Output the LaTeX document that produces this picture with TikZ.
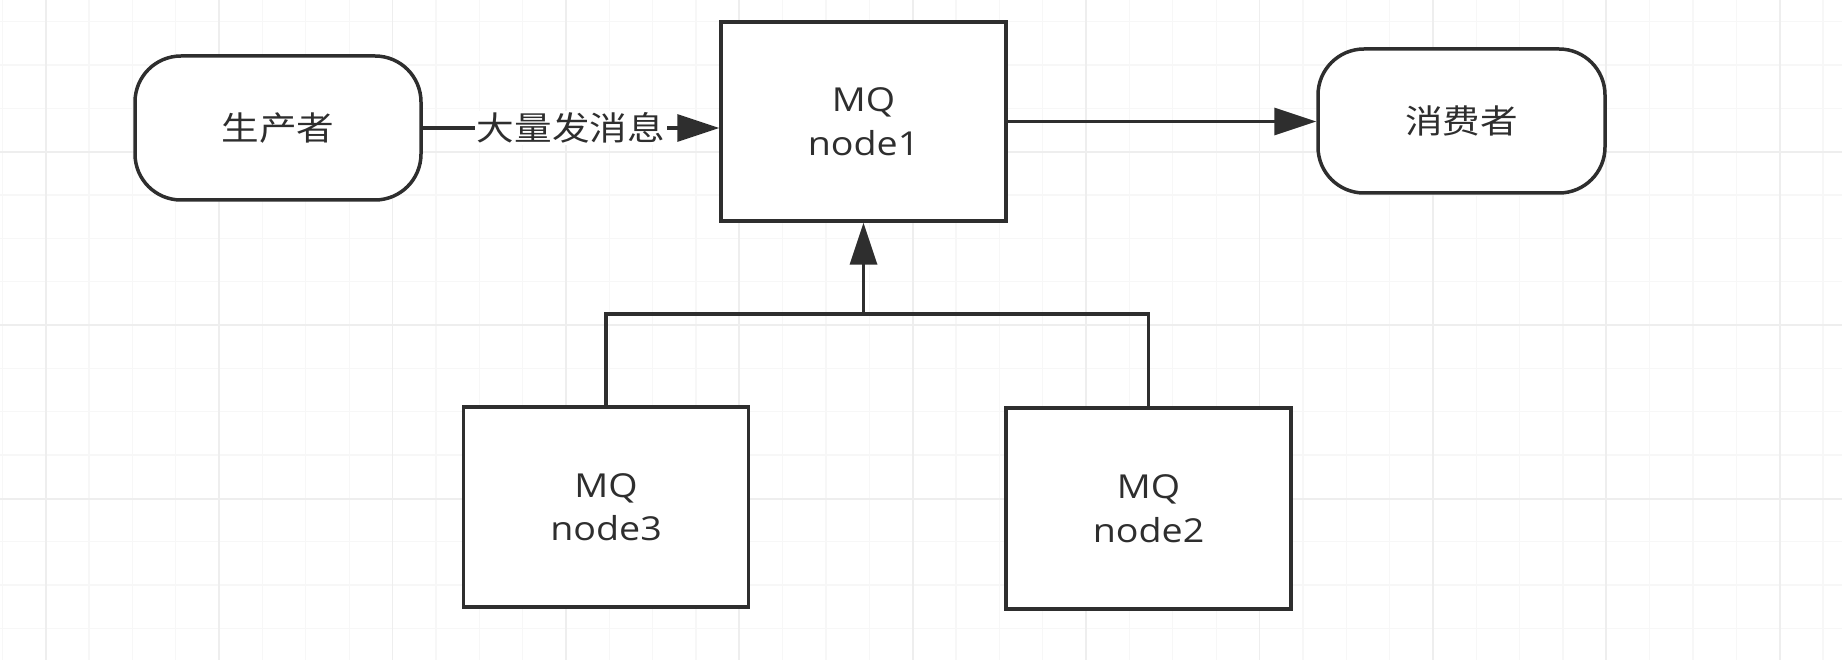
\documentclass[tikz,border=0pt]{standalone}
\usepackage{fontspec}
\usepackage{graphicx}
\setmainfont{Open Sans}
\newfontfamily\cjk{Noto Sans CJK SC}
\usetikzlibrary{arrows.meta}
\definecolor{ink}{HTML}{2E2E2E}
\definecolor{gridminor}{HTML}{F7F7F7}
\definecolor{gridmajor}{HTML}{EEEEEE}
\newcommand{\stx}[1]{\scalebox{1.14}[1]{#1}}
\tikzset{
  minorline/.style={draw=gridminor, line width=1.3pt},
  majorline/.style={draw=gridmajor, line width=1.8pt},
  box/.style={draw=ink, fill=white, line width=3.5pt, inner sep=0pt,
    minimum width=285pt, minimum height=200pt, align=center,
    text=ink, font=\fontsize{33}{43.4}\selectfont},
  term/.style={draw=ink, fill=white, line width=3.5pt, inner sep=0pt,
    rounded corners=46pt, minimum width=286pt, minimum height=144pt,
    text=ink, font=\cjk\fontsize{33}{40}\selectfont},
  conn/.style={draw=ink, line width=3.5pt, -{Triangle[length=42pt, width=27pt]}},
  plain/.style={draw=ink, line width=3.5pt},
  lbl/.style={fill=white, inner sep=2pt, text=ink, font=\cjk\fontsize{33}{40}\selectfont}
}
\begin{document}
\begin{tikzpicture}[x=1pt, y=-1pt]
\useasboundingbox (0,0) rectangle (1842,660);
\fill[white] (0,0) rectangle (1842,660);
% grid
\foreach \i in {0,...,42} {
  \draw[minorline] ({2.35+43.35*\i},0) -- ({2.35+43.35*\i},660);
}
\foreach \j in {0,...,15} {
  \draw[minorline] (0,{21.55+43.35*\j}) -- (1842,{21.55+43.35*\j});
}
\foreach \i in {0,...,10} {
  \draw[majorline] ({45.7+173.4*\i},0) -- ({45.7+173.4*\i},660);
}
\foreach \j in {0,...,3} {
  \draw[majorline] (0,{151.9+173.4*\j}) -- (1842,{151.9+173.4*\j});
}
% nodes
\node[term] (prod) at (278,128) {\stx{生产者}};
\node[box, minimum height=199pt] (n1) at (863.5,121.5) {\stx{MQ}\\\stx{node1}};
\node[term, minimum width=287pt] (cons) at (1461.5,121) {\stx{消费者}};
\node[box] (n3) at (606,507) {\stx{MQ}\\\stx{node3}};
\node[box, minimum height=201pt] (n2) at (1148.5,508.5) {\stx{MQ}\\\stx{node2}};
\coordinate (j) at (863.5,314);
% connectors
\draw[conn] (prod.east) -- node[lbl] {\stx{大量发消息}} (n1.west |- prod.east);
\draw[conn] (n1.east) -- (cons.west |- n1.east);
\draw[plain] (n3.north) |- (j) -| (n2.north);
\draw[conn] (j) -- (n1.south);
\end{tikzpicture}
\end{document}
